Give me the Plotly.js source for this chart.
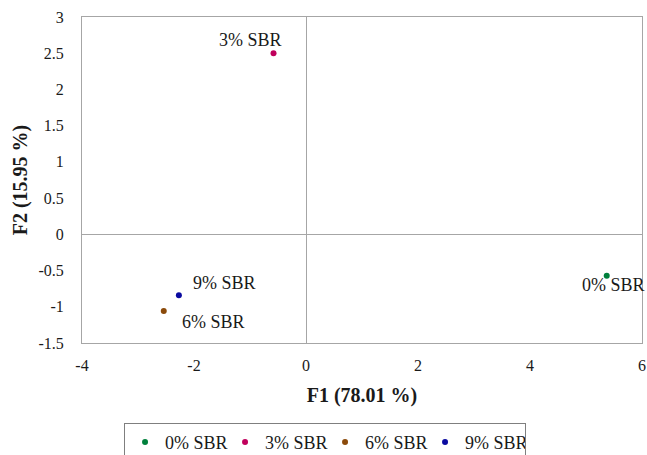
<!DOCTYPE html>
<html><head><meta charset="utf-8">
<script src="https://cdn.plot.ly/plotly-3.0.1.min.js"></script>
<style>html,body{margin:0;padding:0;background:#fff}</style>
</head><body>
<div id="chart" style="width:647px;height:455px"></div>
<script>
const names = ["0% SBR", "3% SBR", "6% SBR", "9% SBR"];
const f1 = [5.37, -0.58, -2.54, -2.27];
const f2 = [-0.57, 2.50, -1.06, -0.84];
const colors = ["#00803c", "#c0005c", "#8b4a0a", "#0a0aa0"];
const xTickVals = [-4, -2, 0, 2, 4, 6];
const xTickText = ["-4", "-2", "0", "2", "4", "6"];
const yTickVals = [-1.5, -1, -0.5, 0, 0.5, 1, 1.5, 2, 2.5, 3];
const yTickText = ["-1.5", "-1", "-0.5", "0", "0.5", "1", "1.5", "2", "2.5", "3"];
// label offsets (pixels) relative to each point
const labelShiftX = [7, -23, 50, 46];
const labelShiftY = [-9, 13, -11, 12];

const FAM = "'Liberation Serif', 'Times New Roman', Times, serif";
const mkFont = (s) => ({family: FAM, size: s, color: "#1a1a1a"});

const traces = names.map((n, i) => ({
  type: "scatter", mode: "markers",
  x: [f1[i]], y: [f2[i]], name: n,
  marker: {color: colors[i], size: 6},
  cliponaxis: false
}));

const annotations = names.map((n, i) => ({
  x: f1[i], y: f2[i], xref: "x", yref: "y", text: n, showarrow: false,
  xshift: labelShiftX[i], yshift: labelShiftY[i], font: mkFont(18)
}));

const layout = {
  width: 647, height: 455,
  margin: {l: 82, r: 5, t: 17, b: 112, autoexpand: false},
  paper_bgcolor: "#fff", plot_bgcolor: "#fff",
  font: mkFont(16),
  showlegend: true,
  annotations: annotations,
  legend: {orientation: "h", x: 0.434, xanchor: "center", y: -0.245, yanchor: "top",
    bordercolor: "#7f7f7f", borderwidth: 1, font: mkFont(18), traceorder: "normal",
    entrywidth: 55, entrywidthmode: "pixels"},
  xaxis: {range: [-4, 6], tickmode: "array", tickvals: xTickVals, ticktext: xTickText,
    showgrid: false, zeroline: true, zerolinecolor: "#a6a6a6", zerolinewidth: 1,
    showline: true, linecolor: "#a6a6a6", mirror: true, ticks: "", tickfont: mkFont(16),
    ticklabelstandoff: 8,
    title: {text: "<b>F1 (78.01 %)</b>", font: mkFont(20), standoff: 14}},
  yaxis: {range: [-1.5, 3], tickmode: "array", tickvals: yTickVals, ticktext: yTickText,
    showgrid: false, zeroline: true, zerolinecolor: "#a6a6a6", zerolinewidth: 1,
    showline: true, linecolor: "#a6a6a6", mirror: true, ticks: "", tickfont: mkFont(16),
    ticklabelstandoff: 14,
    title: {text: "<b>F2 (15.95 %)</b>", font: mkFont(20), standoff: 5}}
};
Plotly.newPlot("chart", traces, layout, {displayModeBar: false, staticPlot: true});
</script>
</body></html>
